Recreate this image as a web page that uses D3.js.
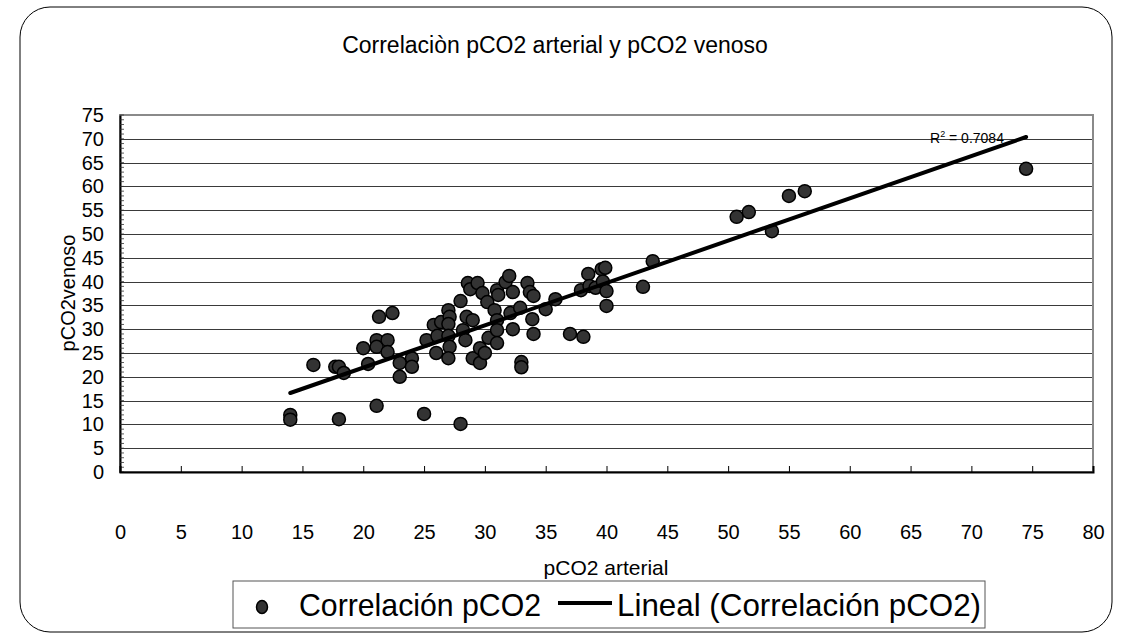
<!DOCTYPE html>
<html><head><meta charset="utf-8">
<script src="https://cdn.jsdelivr.net/npm/d3@7"></script>
<style>body{margin:0;background:#fff}svg{display:block;font-family:"Liberation Sans",Arial,sans-serif}</style>
</head><body><svg id="c" width="1122" height="634"></svg>
<script>
const title = "Correlaciòn pCO2 arterial y pCO2 venoso";
const xLabel = "pCO2 arterial";
const yLabel = "pCO2venoso";
const seriesName = "Correlación pCO2";
const trendName = "Lineal (Correlación pCO2)";
const r2Text = "0.7084";
const xTicks = [0,5,10,15,20,25,30,35,40,45,50,55,60,65,70,75,80];
const yTicks = [0,5,10,15,20,25,30,35,40,45,50,55,60,65,70,75];
const arterial = [14.0,14.0,15.9,17.7,18.0,18.4,18.0,20.0,20.4,21.1,21.1,21.3,22.4,22.0,22.0,23.0,23.0,24.0,24.0,21.1,25.0,
  25.2,25.8,26.0,26.1,26.4,27.0,27.1,27.0,27.0,27.1,27.0,28.0,28.5,28.6,28.8,28.2,28.4,29.0,29.4,29.8,30.2,29.0,29.6,29.6,30.0,30.3,
  30.8,31.0,31.1,31.0,31.0,31.0,31.7,32.0,32.1,32.3,32.3,32.9,33.0,33.0,33.5,33.7,34.0,33.9,34.0,35.0,28.0,35.8,37.0,38.1,37.9,
  38.5,38.6,39.1,39.6,39.9,39.7,40.0,40.0,43.0,43.8,50.7,51.7,53.6,55.0,56.3,74.5];
const venoso = [12.0,11.0,22.5,22.1,22.1,20.8,11.1,26.0,22.7,27.7,26.3,32.6,33.4,27.7,25.2,22.9,20.0,23.9,22.1,13.9,12.2,
  27.7,30.9,25.0,28.6,31.5,34.0,32.6,31.1,28.6,26.3,23.9,35.9,32.6,39.7,38.4,29.8,27.7,31.9,39.7,37.6,35.7,23.9,22.9,26.0,25.0,28.2,
  34.0,38.2,37.2,31.9,29.8,27.1,39.9,41.2,33.4,37.8,30.0,34.5,23.1,22.0,39.7,37.8,37.0,32.1,29.0,34.2,10.1,36.3,29.0,28.4,38.2,
  41.6,39.1,38.7,42.6,42.9,40.0,38.0,34.9,38.9,44.3,53.6,54.6,50.6,58.0,59.0,63.7];
// trend line coefficients
const trendSlope = 0.889, trendIntercept = 4.15;

const svg = d3.select("#c");
const m = {l:120, r:1093, t:115, b:472};
const x = d3.scaleLinear().domain([0,80]).range([m.l, m.r]);
const y = d3.scaleLinear().domain([0,75]).range([m.b, m.t]);

// outer rounded frame
svg.append("rect").attr("x",20).attr("y",7).attr("width",1092).attr("height",625)
  .attr("rx",30).attr("ry",30).attr("fill","#fff").attr("stroke","#000").attr("stroke-width",1);

svg.append("text").attr("x",555).attr("y",53).attr("text-anchor","middle")
  .attr("font-size",23).text(title);

// grid
svg.append("g").selectAll("line").data(yTicks.filter(d=>d>0 && d<75)).join("line")
  .attr("x1",m.l).attr("x2",m.r).attr("y1",d=>Math.round(y(d))+0.5).attr("y2",d=>Math.round(y(d))+0.5)
  .attr("stroke","#3a3a3a").attr("stroke-width",1);

// plot frame
svg.append("rect").attr("x",m.l).attr("y",m.t).attr("width",m.r-m.l).attr("height",m.b-m.t)
  .attr("fill","none").attr("stroke","#8a8a8a").attr("stroke-width",2);

// y axis
const yAxis = d3.axisLeft(y).tickValues(yTicks).tickSize(0).tickPadding(16);
const gy = svg.append("g").attr("transform",`translate(${m.l},0)`).call(yAxis);
gy.select(".domain").attr("stroke","#000").attr("stroke-width",2);
gy.selectAll("text").attr("font-size",20).attr("font-family","Liberation Sans, Arial").attr("fill","#000");
// minor ticks
svg.append("g").selectAll("line").data(d3.range(0,76)).join("line")
  .attr("x1",m.l).attr("x2",m.l+4).attr("y1",d=>y(d)).attr("y2",d=>y(d))
  .attr("stroke","#333").attr("stroke-width",0.8);

// x axis
const xAxis = d3.axisBottom(x).tickValues(xTicks).tickSize(-6).tickPadding(53);
const gx = svg.append("g").attr("transform",`translate(0,${m.b})`).call(xAxis);
gx.select(".domain").attr("stroke","#000").attr("stroke-width",2);
gx.selectAll(".tick line").attr("stroke","#000");
gx.selectAll("text").attr("font-size",20).attr("font-family","Liberation Sans, Arial").attr("fill","#000");

svg.append("text").attr("x",606).attr("y",575).attr("text-anchor","middle").attr("font-size",21).text(xLabel);
svg.append("text").attr("transform","translate(75,293) rotate(-90)").attr("text-anchor","middle").attr("font-size",20).text(yLabel);

// points
const pts = arterial.map((a,i)=>({a, v:venoso[i]}));
svg.append("g").selectAll("circle").data(pts).join("circle")
  .attr("cx",d=>x(d.a)).attr("cy",d=>y(d.v)).attr("r",6.5)
  .attr("fill","#333").attr("stroke","#000").attr("stroke-width",1.5);

// trend line
const xs = d3.extent(arterial);
svg.append("line").attr("x1",x(xs[0])).attr("y1",y(trendSlope*xs[0]+trendIntercept))
  .attr("x2",x(xs[1])).attr("y2",y(trendSlope*xs[1]+trendIntercept))
  .attr("stroke","#000").attr("stroke-width",4).attr("stroke-linecap","round");

// R2 label
const r2 = svg.append("text").attr("x",930).attr("y",143).attr("font-size",14);
r2.append("tspan").text("R");
r2.append("tspan").attr("dy",-6).attr("font-size",9).text("2");
r2.append("tspan").attr("dy",6).text(" = " + r2Text);

// legend
const lg = svg.append("g");
lg.append("rect").attr("x",233).attr("y",581).attr("width",752).attr("height",47)
  .attr("fill","#fff").attr("stroke","#555").attr("stroke-width",1);
lg.append("ellipse").attr("cx",262).attr("cy",607).attr("rx",5.5).attr("ry",6.5)
  .attr("fill","#333").attr("stroke","#000").attr("stroke-width",1.5);
lg.append("text").attr("x",299).attr("y",616).attr("font-size",32)
  .attr("textLength",242).attr("lengthAdjust","spacingAndGlyphs").text(seriesName);
lg.append("line").attr("x1",558).attr("x2",612).attr("y1",603).attr("y2",603).attr("stroke","#000").attr("stroke-width",4);
lg.append("text").attr("x",617).attr("y",616).attr("font-size",32)
  .attr("textLength",364).attr("lengthAdjust","spacingAndGlyphs").text(trendName);
</script></body></html>
